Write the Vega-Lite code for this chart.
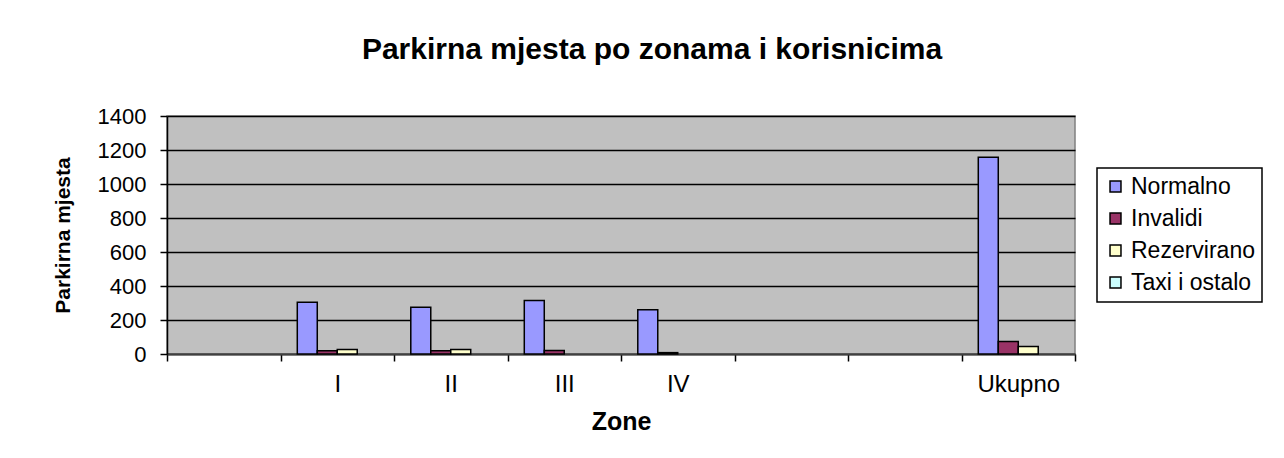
{
  "$schema": "https://vega.github.io/schema/vega-lite/v6.json",
  "width": 908,
  "height": 238,
  "autosize": {"type": "none"},
  "padding": {"left": 167, "top": 116, "right": 209, "bottom": 104},
  "background": "white",
  "title": {
    "text": "Parkirna mjesta po zonama i korisnicima",
    "font": "Liberation Sans",
    "fontSize": 30,
    "fontWeight": "bold",
    "color": "black",
    "anchor": "middle",
    "dx": 31,
    "offset": 40
  },
  "data": {
    "values": [
      {"zona": "I", "vrsta": "Normalno", "broj": 305},
      {"zona": "I", "vrsta": "Invalidi", "broj": 19},
      {"zona": "I", "vrsta": "Rezervirano", "broj": 27},
      {"zona": "II", "vrsta": "Normalno", "broj": 275},
      {"zona": "II", "vrsta": "Invalidi", "broj": 19},
      {"zona": "II", "vrsta": "Rezervirano", "broj": 27},
      {"zona": "III", "vrsta": "Normalno", "broj": 315},
      {"zona": "III", "vrsta": "Invalidi", "broj": 21},
      {"zona": "IV", "vrsta": "Normalno", "broj": 260},
      {"zona": "IV", "vrsta": "Invalidi", "broj": 8},
      {"zona": "Ukupno", "vrsta": "Normalno", "broj": 1158},
      {"zona": "Ukupno", "vrsta": "Invalidi", "broj": 73},
      {"zona": "Ukupno", "vrsta": "Rezervirano", "broj": 44}
    ]
  },
  "mark": {"type": "bar", "stroke": "black", "strokeWidth": 1.5},
  "encoding": {
    "x": {
      "field": "zona",
      "type": "nominal",
      "scale": {"domain": ["_1", "I", "II", "III", "IV", "_2", "_3", "Ukupno"], "paddingInner": 0, "paddingOuter": 0},
      "axis": {
        "title": "Zone",
        "titleFont": "Liberation Sans",
        "titleFontSize": 25,
        "titleFontWeight": "bold",
        "titleColor": "black",
        "titlePadding": 13,
        "labelExpr": "indexof(['I','II','III','IV','Ukupno'], datum.label) >= 0 ? datum.label : ''",
        "labelAngle": 0,
        "labelFont": "Liberation Sans",
        "labelFontSize": 24,
        "labelColor": "black",
        "labelPadding": 11,
        "tickBand": "extent",
        "tickSize": 7,
        "tickColor": "black",
        "tickWidth": 1.5,
        "domainColor": "#404040",
        "domainWidth": 2,
        "grid": false
      }
    },
    "xOffset": {
      "field": "vrsta",
      "type": "nominal",
      "scale": {"domain": ["Normalno", "Invalidi", "Rezervirano", "Taxi i ostalo"], "paddingInner": 0, "paddingOuter": 0.84}
    },
    "y": {
      "field": "broj",
      "type": "quantitative",
      "scale": {"domain": [0, 1400], "nice": false},
      "axis": {
        "title": "Parkirna mjesta",
        "titleFont": "Liberation Sans",
        "titleFontSize": 21,
        "titleFontWeight": "bold",
        "titleColor": "black",
        "titlePadding": 24,
        "values": [0, 200, 400, 600, 800, 1000, 1200, 1400],
        "format": "d",
        "labelFont": "Liberation Sans",
        "labelFontSize": 22,
        "labelColor": "black",
        "labelPadding": 14,
        "tickSize": 7,
        "tickColor": "black",
        "tickWidth": 1.5,
        "domainColor": "black",
        "domainWidth": 1.5,
        "grid": true,
        "gridColor": "black",
        "gridWidth": 1.5
      }
    },
    "color": {
      "field": "vrsta",
      "type": "nominal",
      "scale": {
        "domain": ["Normalno", "Invalidi", "Rezervirano", "Taxi i ostalo"],
        "range": ["#9999FF", "#993366", "#FFFFCC", "#CCFFFF"]
      },
      "legend": {
        "title": null,
        "orient": "none",
        "legendX": 930,
        "legendY": 52,
        "symbolType": "square",
        "symbolSize": 120,
        "symbolStrokeColor": "black",
        "symbolStrokeWidth": 1.5,
        "symbolOpacity": 1,
        "labelFont": "Liberation Sans",
        "labelFontSize": 23,
        "labelColor": "black",
        "labelOffset": 4,
        "rowPadding": 8,
        "padding": 7,
        "strokeColor": "black",
        "fillColor": "white"
      }
    }
  },
  "config": {
    "view": {"fill": "#C0C0C0", "stroke": "#808080", "strokeWidth": 1.5},
    "legend": {"strokeWidth": 1.5}
  }
}
